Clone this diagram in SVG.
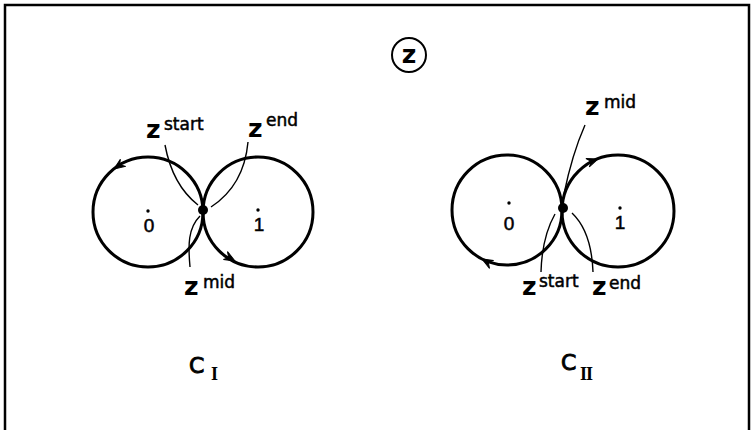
<svg xmlns="http://www.w3.org/2000/svg" xmlns:xlink="http://www.w3.org/1999/xlink" width="755" height="430" viewBox="0 0 755 430">
<style>
.frame{fill:none;stroke:#000;stroke-width:2.5}
.circ{fill:none;stroke:#000;stroke-width:3}
.lead{fill:none;stroke:#000;stroke-width:1.4}
.z{font-family:"DejaVu Sans",sans-serif;font-weight:bold;font-size:25px;fill:#000}
.sup{font-family:"DejaVu Sans",sans-serif;font-size:17px;fill:#000;stroke:#000;stroke-width:0.5}
.dig{font-family:"Liberation Sans",sans-serif;font-size:19px;fill:#000;text-anchor:middle;stroke:#000;stroke-width:0.5}
.cap{font-family:"DejaVu Sans",sans-serif;font-size:22px;fill:#000;stroke:#000;stroke-width:0.9}
.sub{font-family:"Liberation Serif",serif;font-weight:bold;font-size:18px;fill:#000}
</style>
<defs>
<path id="ah" d="M0,0 L-11,-5 L-7,0 L-11,4 Z" fill="#000" stroke="#000" stroke-width="1"/>
</defs>
<path class="frame" d="M5,430 V5 H749 V430"/>
<g id="zlabel">
<circle cx="409" cy="55" r="17" fill="none" stroke="#000" stroke-width="2"/>
<text class="z" x="409" y="63" text-anchor="middle">z</text>
</g>
<g id="CI">
<circle class="circ" cx="148" cy="212" r="55"/>
<circle class="circ" cx="258" cy="212" r="55"/>
<circle cx="203" cy="210" r="5"/>
<circle cx="148" cy="211" r="1.7"/>
<circle cx="258" cy="210" r="1.7"/>
<text class="dig" x="149" y="232">0</text>
<text class="dig" x="259" y="231">1</text>
<use xlink:href="#ah" transform="translate(114,169) rotate(143)"/>
<use xlink:href="#ah" transform="translate(235,261) rotate(27)"/>
<text class="z" x="146" y="138">z</text><text class="sup" x="164" y="130">start</text>
<text class="z" x="248" y="137">z</text><text class="sup" x="266" y="126">end</text>
<text class="z" x="184" y="295">z</text><text class="sup" x="203" y="288">mid</text>
<text class="cap" x="189" y="373">C</text><text class="sub" x="211" y="380">I</text>
</g>
<g id="CII">
<circle class="circ" cx="507" cy="210" r="55"/>
<circle class="circ" cx="618" cy="211" r="56"/>
<circle cx="563" cy="208" r="5"/>
<circle cx="509" cy="203" r="1.7"/>
<circle cx="620" cy="208" r="1.7"/>
<text class="dig" x="509" y="230">0</text>
<text class="dig" x="620" y="229">1</text>
<use xlink:href="#ah" transform="translate(598,159) rotate(-22)"/>
<use xlink:href="#ah" transform="translate(482,259) rotate(207)"/>
<text class="z" x="585" y="115">z</text><text class="sup" x="604" y="108">mid</text>
<text class="z" x="522" y="295">z</text><text class="sup" x="539" y="287">start</text>
<text class="z" x="592" y="295">z</text><text class="sup" x="609" y="289">end</text>
<text class="cap" x="561" y="370">C</text><text class="sub" x="580" y="380" letter-spacing="-1">II</text>
</g>
<g id="connectors">
<path class="lead" d="M165,145 Q172.5,185 198,205"/>
<path class="lead" d="M248,142 Q244,185.5 211,207"/>
<path class="lead" d="M190,267 C188,245 188,228 200,216"/>
<path class="lead" d="M585,125 Q572,154.5 564,194"/>
<path class="lead" d="M541,272 Q542,237 555,214"/>
<path class="lead" d="M593,272 Q591.5,231.5 572,213"/>
</g>
</svg>
